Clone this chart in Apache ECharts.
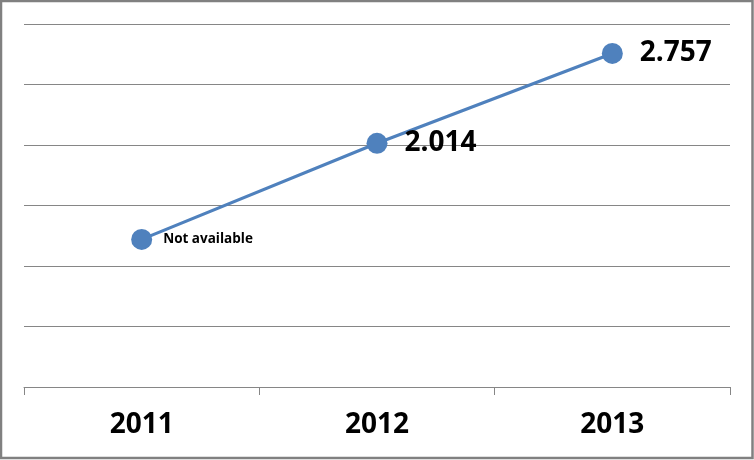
<!DOCTYPE html>
<html>
<head>
<meta charset="utf-8">
<script src="https://cdn.jsdelivr.net/npm/echarts@6/dist/echarts.min.js"></script>
<style>
html,body{margin:0;padding:0;background:#fff;}
#c{width:754px;height:460px;}
</style>
</head>
<body>
<div id="c"></div>
<script>
const categories = ['2011', '2012', '2013'];
const values = [1.22, 2.014, 2.757];
const valueLabels = ['Not available', '2.014', '2.757'];
const yMin = 0, yMax = 3, yInterval = 0.5;

const chart = echarts.init(document.getElementById('c'));
const data = values.map((v, i) => ({
  value: v,
  label: i === 0
    ? { formatter: valueLabels[i], fontSize: 13.5, distance: 11 }
    : { formatter: valueLabels[i], fontSize: 28, distance: 17 }
}));
chart.setOption({
  animation: false,
  graphic: [{
    type: 'rect', silent: true,
    shape: { x: 1, y: 1, width: 751.5, height: 457 },
    style: { fill: 'none', stroke: '#808080', lineWidth: 2.5 }
  }],
  grid: { left: 24, right: 24, top: 24, bottom: 73, containLabel: false },
  xAxis: {
    type: 'category', data: categories, boundaryGap: true,
    axisLine: { lineStyle: { color: '#868686', width: 1 } },
    axisTick: { show: true, length: 8, lineStyle: { color: '#868686' } },
    axisLabel: { color: '#000', fontSize: 28, fontWeight: 'bold', fontFamily: 'Open Sans', margin: 24 }
  },
  yAxis: {
    type: 'value', min: yMin, max: yMax, interval: yInterval,
    axisLabel: { show: false },
    axisLine: { show: false }, axisTick: { show: false },
    splitLine: { lineStyle: { color: '#868686', width: 1 } }
  },
  series: [{
    type: 'line', data: data,
    symbol: 'circle', symbolSize: 21,
    lineStyle: { color: '#4F81BD', width: 3.2 },
    itemStyle: { color: '#4F81BD' },
    label: { show: true, position: 'right', color: '#000', fontWeight: 'bold', fontFamily: 'Open Sans' }
  }]
});
</script>
</body>
</html>
